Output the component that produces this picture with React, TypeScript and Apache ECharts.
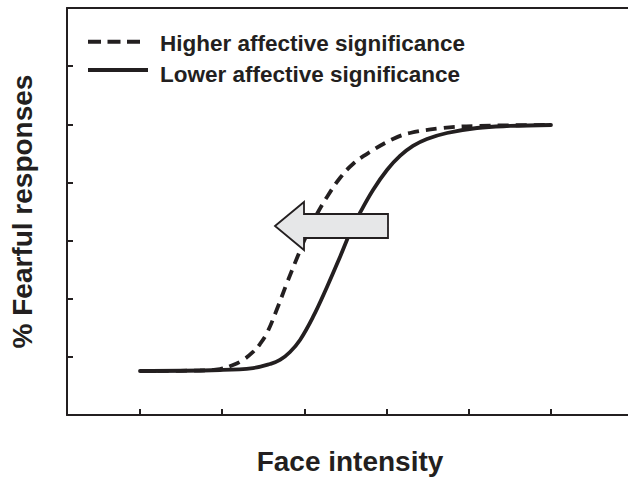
import React, { useEffect, useRef } from "react";
import * as echarts from "echarts";

// Face intensity (tick units 1..6) and % fearful responses (axis units 0..7)
const higherX = [1.0, 1.73, 1.973, 2.131, 2.253, 2.375, 2.46, 2.545, 2.667, 2.788, 2.91, 3.032, 3.153, 3.275, 3.433, 3.591, 3.798, 4.078, 4.285, 4.686, 5.1, 6.0];
const higherY = [0.757, 0.765, 0.791, 0.86, 0.946, 1.084, 1.221, 1.41, 1.823, 2.27, 2.7, 3.113, 3.457, 3.75, 4.076, 4.317, 4.524, 4.747, 4.85, 4.936, 4.971, 4.988];
const lowerX = [1.0, 1.973, 2.375, 2.582, 2.703, 2.825, 2.947, 3.105, 3.275, 3.433, 3.555, 3.676, 3.835, 4.005, 4.163, 4.321, 4.491, 4.735, 5.1, 5.501, 6.0];
const lowerY = [0.757, 0.774, 0.808, 0.877, 0.946, 1.084, 1.29, 1.686, 2.202, 2.718, 3.13, 3.474, 3.87, 4.214, 4.455, 4.627, 4.747, 4.85, 4.936, 4.971, 4.988];
const xTicks = [1, 2, 3, 4, 5, 6];
const yTicks = [1, 2, 3, 4, 5, 6];
const seriesNames = ["Higher affective significance", "Lower affective significance"];
const xTitle = "Face intensity";
const yTitle = "% Fearful responses";

const INK = "#231f20";
const FONT = "'Liberation Sans', Arial, Helvetica, sans-serif";

export default function App() {
  const ref = useRef<HTMLDivElement>(null);
  useEffect(() => {
    if (!ref.current) return;
    const chart = echarts.init(ref.current, null, { renderer: "svg" });
    const zip = (xs: number[], ys: number[]) => xs.map((x, i) => [x, ys[i]]);
    const axisLine = { show: true, lineStyle: { color: INK, width: 2 } };
    chart.setOption({
      animation: false,
      backgroundColor: "#ffffff",
      grid: { left: 67, top: 8, right: 0, bottom: 63 },
      xAxis: [
        {
          type: "value",
          min: 0.112,
          max: 6.937,
          axisLine,
          axisTick: { show: true, inside: true, length: 6, customValues: xTicks, lineStyle: { color: INK, width: 2 } },
          axisLabel: { show: false },
          splitLine: { show: false },
        },
        {
          type: "value",
          position: "top",
          min: 0.112,
          max: 6.937,
          axisLine,
          axisTick: { show: false },
          axisLabel: { show: false },
          splitLine: { show: false },
        },
      ],
      yAxis: {
        type: "value",
        min: 0,
        max: 7,
        interval: 1,
        axisLine,
        axisTick: { show: true, inside: true, length: 6, customValues: yTicks, lineStyle: { color: INK, width: 2 } },
        axisLabel: { show: false },
        splitLine: { show: false },
      },
      series: [
        {
          name: seriesNames[0],
          type: "line",
          data: zip(higherX, higherY),
          showSymbol: false,
          smooth: 0.4,
          lineStyle: { color: INK, width: 3.8, type: [11, 7], cap: "butt" },
        },
        {
          name: seriesNames[1],
          type: "line",
          data: zip(lowerX, lowerY),
          showSymbol: false,
          smooth: 0.4,
          lineStyle: { color: INK, width: 3.8, type: "solid", cap: "round" },
        },
      ],
      graphic: [
        {
          type: "polygon",
          z: 100,
          shape: {
            points: [
              [275, 226],
              [304, 202],
              [304, 214],
              [388, 214],
              [388, 238],
              [304, 238],
              [304, 250],
            ],
          },
          style: { fill: "#e6e7e8", stroke: INK, lineWidth: 1.8 },
        },
        {
          type: "line",
          z: 100,
          shape: { x1: 88, y1: 41.7, x2: 140, y2: 41.7 },
          style: { stroke: INK, lineWidth: 4, lineDash: [13, 6.5] },
        },
        {
          type: "line",
          z: 100,
          shape: { x1: 88, y1: 70, x2: 148, y2: 70 },
          style: { stroke: INK, lineWidth: 4 },
        },
        {
          type: "text",
          z: 100,
          x: 160,
          y: 43,
          style: { text: seriesNames[0], font: `bold 22.5px ${FONT}`, fill: INK, align: "left", verticalAlign: "middle" },
        },
        {
          type: "text",
          z: 100,
          x: 160,
          y: 74.5,
          style: { text: seriesNames[1], font: `bold 22.5px ${FONT}`, fill: INK, align: "left", verticalAlign: "middle" },
        },
        {
          type: "text",
          z: 100,
          x: 350,
          y: 461,
          style: { text: xTitle, font: `bold 28px ${FONT}`, fill: INK, align: "center", verticalAlign: "middle" },
        },
        {
          type: "text",
          z: 100,
          x: 22,
          y: 211.5,
          rotation: Math.PI / 2,
          style: { text: yTitle, font: `bold 28px ${FONT}`, fill: INK, align: "center", verticalAlign: "middle" },
        },
      ],
    });
    return () => chart.dispose();
  }, []);
  return (
    <div
      ref={ref}
      style={{ position: "fixed", left: 0, top: 0, width: 628, height: 478, background: "#fff" }}
    />
  );
}
